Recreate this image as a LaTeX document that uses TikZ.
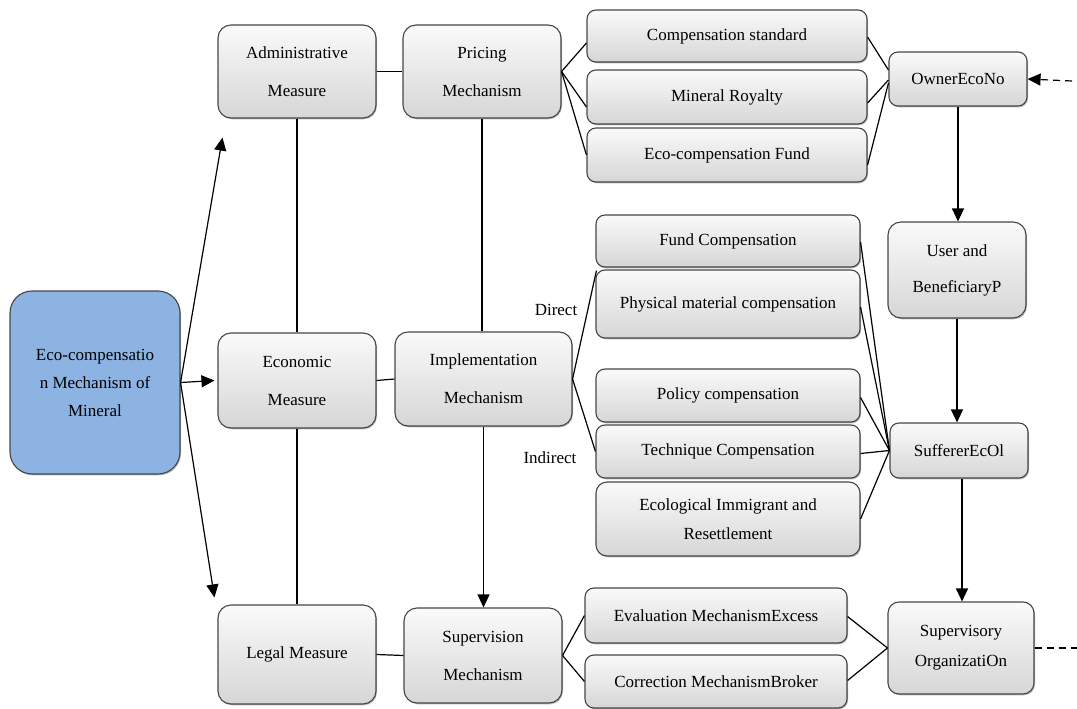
\documentclass[tikz,border=0pt]{standalone}
\usepackage{fontspec}
\setmainfont{Liberation Serif}
\usetikzlibrary{arrows.meta,shadows,calc}
\definecolor{mainblue}{HTML}{8DB3E2}
\begin{document}
\begin{tikzpicture}[x=1pt,y=-1pt,
  box/.style={draw=gray!55!black, line width=1.1pt, rounded corners=9pt,
    top color=gray!4, bottom color=gray!32, align=center, inner sep=2pt,
    drop shadow={shadow xshift=1pt, shadow yshift=-1.3pt, fill=gray!70, opacity=0.8},
    font=\rmfamily\fontsize{17}{20}\selectfont},
  tallbox/.style={box, rounded corners=13pt, font=\rmfamily\fontsize{17}{38}\selectfont},
  midbox/.style={box, rounded corners=11pt, font=\rmfamily\fontsize{17}{29}\selectfont},
  mainbox/.style={draw=gray!55!black, line width=1.1pt, rounded corners=22pt,
    fill=mainblue, align=center,
    drop shadow={shadow xshift=1pt, shadow yshift=-1.3pt, fill=gray!70, opacity=0.8},
    font=\rmfamily\fontsize{17}{28}\selectfont},
  lbl/.style={font=\rmfamily\fontsize{17}{20}\selectfont, inner sep=0pt},
  link/.style={line width=1.2pt},
  tip/.style={-{Triangle[length=13pt,width=12pt]}},
  arr/.style={link, tip},
  dashlink/.style={link, dash pattern=on 7pt off 5pt}
]
\useasboundingbox (0,0) rectangle (1077,709);

% root
\node[mainbox, minimum width=170pt, minimum height=183pt] (main) at (95,382.5)
  {Eco-compensatio\\n Mechanism of\\Mineral};

% measures
\node[tallbox, minimum width=158pt, minimum height=93pt] (admin) at (297,71.5) {Administrative\\Measure};
\node[tallbox, minimum width=158pt, minimum height=95pt] (econ) at (297,380.5) {Economic\\Measure};
\node[tallbox, minimum width=158pt, minimum height=99pt] (legal) at (297,654.5) {Legal Measure};

% mechanisms
\node[tallbox, minimum width=158pt, minimum height=93pt] (pricing) at (482,71.5) {Pricing\\Mechanism};
\node[tallbox, minimum width=177pt, minimum height=94pt] (impl) at (483.5,379) {Implementation\\Mechanism};
\node[tallbox, minimum width=158pt, minimum height=95pt] (superv) at (483,655.5) {Supervision\\Mechanism};

% pricing instruments
\node[box, minimum width=280pt, minimum height=52pt] (compstd) at (727,36) {Compensation standard};
\node[box, minimum width=280pt, minimum height=54pt] (royalty) at (727,97) {Mineral Royalty};
\node[box, minimum width=280pt, minimum height=54pt] (ecofund) at (727,155) {Eco-compensation Fund};

% implementation forms
\node[box, minimum width=264pt, minimum height=52pt] (fundc) at (728,241) {Fund Compensation};
\node[box, minimum width=264pt, minimum height=68pt] (phys) at (728,304) {Physical material compensation};
\node[box, minimum width=264pt, minimum height=53pt] (policy) at (728,395.5) {Policy compensation};
\node[box, minimum width=264pt, minimum height=53pt] (tech) at (728,451.5) {Technique Compensation};
\node[midbox, minimum width=264pt, minimum height=74pt] (ecoim) at (728,519) {Ecological Immigrant and\\Resettlement};

% supervision tools
\node[box, minimum width=262pt, minimum height=55pt] (eval) at (716,615.5) {Evaluation MechanismExcess};
\node[box, minimum width=262pt, minimum height=53pt] (corr) at (716,681.5) {Correction MechanismBroker};

% actors
\node[box, minimum width=138pt, minimum height=54pt] (owner) at (958,79) {OwnerEcoNo};
\node[tallbox, minimum width=138pt, minimum height=96pt, font=\rmfamily\fontsize{17}{36}\selectfont] (user) at (957,270) {User and\\BeneficiaryP};
\node[box, minimum width=138pt, minimum height=55pt] (sufferer) at (959,450.5) {SuffererEcOl};
\node[midbox, minimum width=146pt, minimum height=92pt, font=\rmfamily\fontsize{17}{30}\selectfont] (supervorg) at (961,648) {Supervisory\\OrganizatiOn};

% branch labels
\node[lbl] (direct) at (556,310) {Direct};
\node[lbl] (indirect) at (550,458) {Indirect};

% free ends of the open connectors
\coordinate (ownerin) at (1072,81);
\coordinate (orgout) at (1077,648);

% root to measures
\draw[arr] (main.east) -- ($(admin.south west)+(5,19)$);
\draw[arr] (main.east) -- ($(econ.west)+(-3,0)$);
\draw[arr] (main.east) -- ($(legal.north west)+(-3,-7)$);

% measures column
\draw[link] (admin.south) -- (econ.north);
\draw[link] (econ.south) -- (legal.north);

% measures to mechanisms
\draw[link] (admin.east) -- (pricing.west);
\draw[link] (econ.east) -- (impl.west);
\draw[link] (legal.east) -- (superv.west);
\draw[link] (pricing.south) -- (pricing.south |- impl.north);
\draw[arr] (impl.south) -- (impl.south |- superv.north);

% pricing fan
\draw[link] (pricing.east) -- ($(compstd.west)+(0,7)$);
\draw[link] (pricing.east) -- ($(royalty.west)+(0,10)$);
\draw[link] (pricing.east) -- (ecofund.west);
\draw[link] ($(compstd.east)+(0,1)$) -- ($(owner.west)+(0,-9)$);
\draw[link] ($(royalty.east)+(0,6)$) -- ($(owner.west)+(0,1)$);
\draw[link] ($(ecofund.east)+(0,10)$) -- ($(owner.west)+(0,4)$);

% implementation fan
\draw[link] (impl.east) -- ($(fundc.south west)+(1,3)$);
\draw[link] (impl.east) -- (tech.west);
\draw[link] ($(fundc.east)+(0,1)$) -- (sufferer.west);
\draw[link] ($(phys.east)+(0,3)$) -- (sufferer.west);
\draw[link] ($(policy.east)+(0,2)$) -- (sufferer.west);
\draw[link] ($(tech.east)+(0,2)$) -- (sufferer.west);
\draw[link] (ecoim.east) -- (sufferer.west);

% supervision fan
\draw[link] (superv.east) -- (eval.west);
\draw[link] (superv.east) -- (corr.west);
\draw[link] ($(eval.east)+(0,1)$) -- (supervorg.west);
\draw[link] ($(corr.east)+(0,-1)$) -- (supervorg.west);

% actor chain
\draw[arr] (owner.south) -- (owner.south |- user.north);
\draw[arr] (user.south) -- (user.south |- sufferer.north);
\draw[arr] ($(sufferer.south)+(3,0)$) -- ($(sufferer.south |- supervorg.north)+(3,0)$);
\draw[dashlink, tip] (ownerin) -- (owner.east);
\draw[dashlink] (supervorg.east) -- (orgout);
\end{tikzpicture}
\end{document}
